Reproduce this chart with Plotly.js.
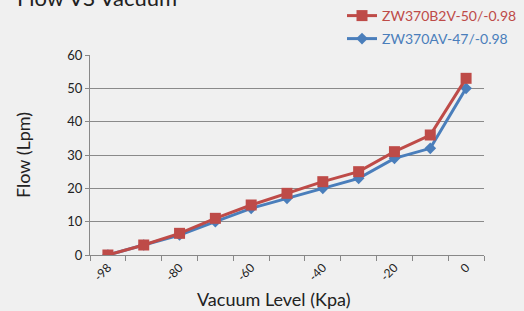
<!DOCTYPE html>
<html>
<head>
<meta charset="utf-8">
<script src="https://cdn.plot.ly/plotly-3.0.1.min.js"></script>
<style>html,body{margin:0;padding:0;background:#f0f0f0;}#chart{width:524px;height:311px;}</style>
</head>
<body>
<div id="chart"></div>
<script>
var categories = ['-98','-90','-80','-70','-60','-50','-40','-30','-20','-10','0'];
var tickLabels = ['-98','','-80','','-60','','-40','','-20','','0'];
var seriesRedName = 'ZW370B2V-50/-0.98';
var seriesRed = [0, 3, 6.5, 11, 15, 18.5, 22, 25, 31, 36, 53];
var seriesBlueName = 'ZW370AV-47/-0.98';
var seriesBlue = [0, 3, 6, 10, 14, 17, 20, 23, 29, 32, 50];
var titleText = 'Flow VS Vacuum';
var xTitle = 'Vacuum Level (Kpa)';
var yTitle = 'Flow (Lpm)';

var red = '#be4b48', blue = '#4a7ebb';
var font = 'Lato, "Open Sans", sans-serif';

var traces = [
  {x: categories, y: seriesBlue, name: seriesBlueName, type: 'scatter', mode: 'lines+markers',
   line: {color: blue, width: 3}, marker: {symbol: 'diamond', size: 9, color: blue}, legend: 'legend2'},
  {x: categories, y: seriesRed, name: seriesRedName, type: 'scatter', mode: 'lines+markers',
   line: {color: red, width: 3}, marker: {symbol: 'square', size: 11, color: red}, legend: 'legend'}
];

var layout = {
  width: 524, height: 311,
  margin: {l: 90, r: 40, t: 55, b: 56, autoexpand: false},
  paper_bgcolor: '#f0f0f0', plot_bgcolor: '#f0f0f0',
  font: {family: font, color: '#222', size: 13},
  showlegend: true,
  legend: {x: 0.6396, y: 1.195, xanchor: 'left', yanchor: 'middle',
           bgcolor: 'rgba(0,0,0,0)', font: {family: font, size: 14, color: red}},
  legend2: {x: 0.6396, y: 1.08, xanchor: 'left', yanchor: 'middle',
           bgcolor: 'rgba(0,0,0,0)', font: {family: font, size: 14, color: blue}},
  xaxis: {type: 'category', categoryorder: 'array', categoryarray: categories,
          range: [-0.5, 10.5], tickmode: 'array', tickvals: categories, ticktext: tickLabels,
          tickson: 'boundaries', ticks: 'outside', ticklen: 5, tickcolor: '#888',
          showline: true, linecolor: '#888', linewidth: 1, showgrid: false, zeroline: false,
          tickangle: -45, tickfont: {size: 12, color: '#222'}, automargin: false},
  yaxis: {range: [0, 60], dtick: 10, tick0: 0, showline: true, linecolor: '#888', linewidth: 1,
          showgrid: true, gridcolor: '#8a8a8a', gridwidth: 1, zeroline: false,
          ticks: 'outside', ticklen: 4, tickcolor: '#888', tickfont: {size: 13, color: '#222'},
          title: {text: yTitle, font: {size: 18, color: '#222'}, standoff: 32}, automargin: false},
  annotations: [
    {text: titleText, xref: 'paper', yref: 'paper', x: 0, y: 1, xanchor: 'left', yanchor: 'middle',
     xshift: -75, yshift: 58, showarrow: false, font: {family: font, size: 22, color: '#222'}},
    {text: xTitle, xref: 'paper', yref: 'paper', x: 0.5, y: 0, xanchor: 'center', yanchor: 'middle',
     xshift: -14, yshift: -44, showarrow: false, font: {family: font, size: 18, color: '#222'}}
  ]
};

Plotly.newPlot('chart', traces, layout, {displayModeBar: false, staticPlot: true});
</script>
</body>
</html>
